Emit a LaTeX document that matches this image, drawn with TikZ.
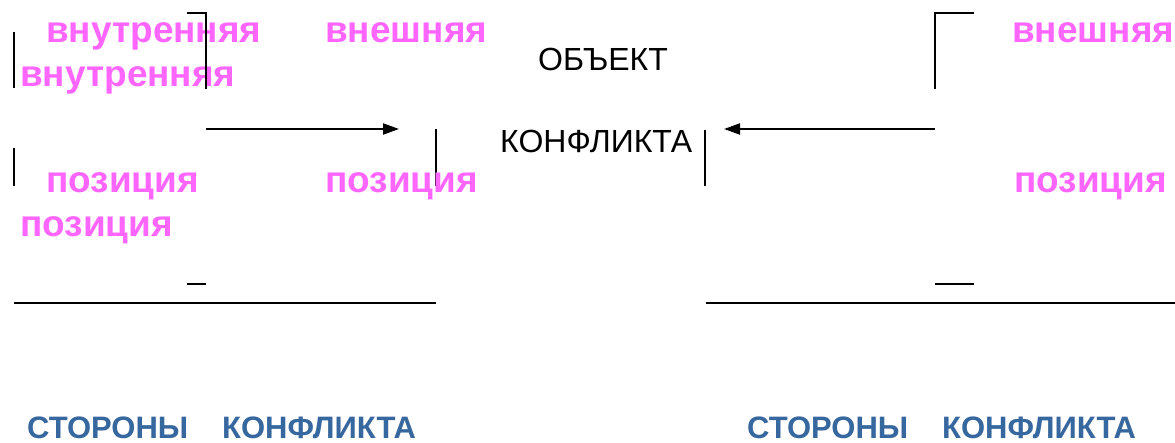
\documentclass[tikz,border=0pt]{standalone}
\usepackage{fontspec}
\setmainfont{Liberation Sans}
\usetikzlibrary{arrows.meta}
\definecolor{pinkt}{HTML}{FF66FF}
\definecolor{bluet}{HTML}{36679E}
\tikzset{
  pinklabel/.style={anchor=base west, inner sep=0pt, text=pinkt, font=\fontsize{37}{37}\selectfont\bfseries},
  objlabel/.style={anchor=base west, inner sep=0pt, text=black, font=\fontsize{32}{32}\selectfont},
  sidelabel/.style={anchor=base west, inner sep=0pt, text=bluet, font=\fontsize{31}{31}\selectfont\bfseries},
  ln/.style={line width=2pt, black},
  arr/.style={line width=2pt, black, -{Triangle[length=16pt,width=11pt]}}
}
\begin{document}
\begin{tikzpicture}[x=1pt,y=-1pt]
\useasboundingbox (0,0) rectangle (1175,443);
% coordinates for line ends
\coordinate (lv1a) at (14,32); \coordinate (lv1b) at (14,88);
\coordinate (lv2a) at (14,148); \coordinate (lv2b) at (14,186);
\coordinate (lbh) at (187,13); \coordinate (lbc) at (206,13); \coordinate (lbv) at (206,89);
\coordinate (la0) at (206,129); \coordinate (la1) at (399,129);
\coordinate (cv1a) at (436,129); \coordinate (cv1b) at (436,186);
\coordinate (cv2a) at (705,130); \coordinate (cv2b) at (705,186);
\coordinate (ra0) at (935,129); \coordinate (ra1) at (724,129);
\coordinate (rbh) at (974,13); \coordinate (rbc) at (935,13); \coordinate (rbv) at (935,89);
\coordinate (ld0) at (187,284); \coordinate (ld1) at (206,284);
\coordinate (rd0) at (935,284); \coordinate (rd1) at (974,284);
\coordinate (lh0) at (14,303); \coordinate (lh1) at (436,303);
\coordinate (rh0) at (706,303); \coordinate (rh1) at (1175,303);

\draw[ln] (lv1a) -- (lv1b);
\draw[ln] (lv2a) -- (lv2b);
\draw[ln] (cv1a) -- (cv1b);
\draw[ln] (cv2a) -- (cv2b);
\draw[arr] (la0) -- (la1);
\draw[arr] (ra0) -- (ra1);
\draw[ln] (rbh) -- (rbc) -- (rbv);
\draw[ln] (ld0) -- (ld1);
\draw[ln] (rd0) -- (rd1);
\draw[ln] (lh0) -- (lh1);
\draw[ln] (rh0) -- (rh1);

\node[pinklabel] (vn1) at (46,43) {внутренняя};
\node[pinklabel] (ve1) at (325,43) {внешняя};
\node[pinklabel] (vn2) at (20,87) {внутренняя};
\node[pinklabel] (p1) at (46,193) {позиция};
\node[pinklabel] (p2) at (325,193) {позиция};
\node[pinklabel] (p3) at (20,237) {позиция};
\node[pinklabel] (ve2) at (1012,43) {внешняя};
\node[pinklabel] (p4) at (1014,193) {позиция};

\draw[ln] (lbh) -- (lbc) -- (lbv);

\node[objlabel] (obj) at (538,71) {ОБЪЕКТ};
\node[objlabel] (konf) at (500,153) {КОНФЛИКТА};

\node[sidelabel] (s1) at (27,438) {СТОРОНЫ\hspace{34pt}КОНФЛИКТА};
\node[sidelabel] (s2) at (747,438) {СТОРОНЫ\hspace{34pt}КОНФЛИКТА};
\end{tikzpicture}
\end{document}
